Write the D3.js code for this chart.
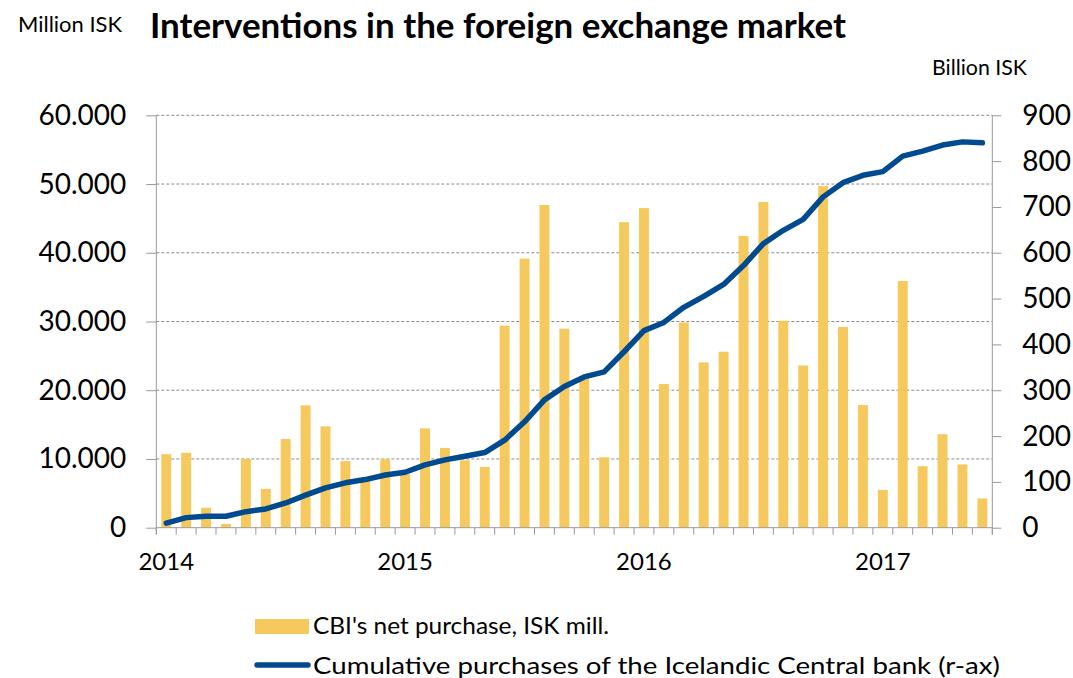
<!DOCTYPE html>
<html>
<head>
<meta charset="utf-8">
<script src="https://cdn.jsdelivr.net/npm/d3@7"></script>
<style>
  html, body { margin: 0; padding: 0; background: #fff; }
  svg { display: block; font-family: Lato, "Open Sans", sans-serif; }
</style>
</head>
<body>
<svg id="chart" width="1073" height="678"></svg>
<script>
// Monthly observations, Jan 2014 – Jun 2017
const months = [
  "2014-01","2014-02","2014-03","2014-04","2014-05","2014-06","2014-07","2014-08","2014-09","2014-10","2014-11","2014-12",
  "2015-01","2015-02","2015-03","2015-04","2015-05","2015-06","2015-07","2015-08","2015-09","2015-10","2015-11","2015-12",
  "2016-01","2016-02","2016-03","2016-04","2016-05","2016-06","2016-07","2016-08","2016-09","2016-10","2016-11","2016-12",
  "2017-01","2017-02","2017-03","2017-04","2017-05","2017-06"
];

// CBI's net purchase, ISK million (left axis)
const netPurchase = [
  10700, 10900, 2900, 550, 10000, 5650, 12900, 17800, 14750, 9700, 7000, 9950,
  7800, 14450, 11600, 9800, 8850, 29400, 39150, 46950, 28950, 21700, 10250, 44450,
  46500, 20900, 29850, 24050, 25600, 42450, 47400, 30100, 23600, 49700, 29200, 17850,
  5500, 35900, 8950, 13600, 9200, 4250
];

// Cumulative purchases, ISK billion (right axis)
const cumulative = [
  10, 22, 25, 25, 35, 41, 54, 71, 87, 98, 105, 115,
  121, 137, 148, 156, 164, 191, 231, 279, 308, 329, 340, 384,
  430, 448, 481, 505, 531, 572, 620, 649, 673, 722, 753, 769,
  777, 811, 822, 835, 842, 840
];

const leftTicks = [0, 10000, 20000, 30000, 40000, 50000, 60000];
const rightTicks = [0, 100, 200, 300, 400, 500, 600, 700, 800, 900];
const yearLabels = ["2014", "2015", "2016", "2017"];

const barColor = "#F5C95D";
const lineColor = "#004A8F";
const axisColor = "#999999";

const svg = d3.select("#chart");
const plot = { left: 156.3, right: 992.3, top: 115.3, bottom: 527.7 };

const x = d3.scaleBand()
  .domain(months)
  .range([plot.left, plot.right])
  .paddingInner(0.5)
  .paddingOuter(0.25);

const yL = d3.scaleLinear().domain([0, 60000]).range([plot.bottom, plot.top]);
const yR = d3.scaleLinear().domain([0, 900]).range([plot.bottom, plot.top]);

const fmtThousands = d3.formatLocale({ decimal: ",", thousands: ".", grouping: [3], currency: ["", ""] }).format(",d");

// Horizontal dashed gridlines on the left-axis ticks
svg.append("g")
  .selectAll("line")
  .data(leftTicks.filter(d => d > 0))
  .join("line")
  .attr("x1", plot.left).attr("x2", plot.right)
  .attr("y1", d => yL(d)).attr("y2", d => yL(d))
  .attr("stroke", "#8c8c8c")
  .attr("stroke-width", 1)
  .attr("stroke-dasharray", "3,2");

// Bars
svg.append("g")
  .selectAll("rect")
  .data(months)
  .join("rect")
  .attr("x", d => x(d))
  .attr("width", x.bandwidth())
  .attr("y", (d, i) => yL(netPurchase[i]))
  .attr("height", (d, i) => yL(0) - yL(netPurchase[i]))
  .attr("fill", barColor);

// Left axis
const leftAxis = svg.append("g")
  .attr("transform", `translate(${plot.left},0)`)
  .call(d3.axisLeft(yL).tickValues(leftTicks).tickSize(10).tickPadding(20).tickFormat(fmtThousands));
leftAxis.select(".domain").remove();
leftAxis.selectAll(".tick line").attr("stroke", axisColor);
leftAxis.selectAll(".tick text")
  .attr("fill", "#000").attr("font-size", 28).attr("font-family", "Lato, sans-serif");
leftAxis.append("line")
  .attr("x1", 0).attr("x2", 0).attr("y1", plot.top).attr("y2", plot.bottom + 7)
  .attr("stroke", axisColor);

// Right axis
const rightAxis = svg.append("g")
  .attr("transform", `translate(${plot.right},0)`)
  .call(d3.axisRight(yR).tickValues(rightTicks).tickSize(9).tickPadding(21));
rightAxis.select(".domain").remove();
rightAxis.selectAll(".tick line").attr("stroke", axisColor);
rightAxis.selectAll(".tick text")
  .attr("fill", "#000").attr("font-size", 28).attr("font-family", "Lato, sans-serif");
rightAxis.append("line")
  .attr("x1", 0).attr("x2", 0).attr("y1", plot.top).attr("y2", plot.bottom + 7)
  .attr("stroke", axisColor);

// Bottom axis: month boundary ticks and year labels
const bottom = svg.append("g");
bottom.append("line")
  .attr("x1", plot.left).attr("x2", plot.right)
  .attr("y1", plot.bottom).attr("y2", plot.bottom)
  .attr("stroke", axisColor);
const boundaries = months.map(m => x(m) - x.step() * x.paddingOuter()).concat([plot.right]);
bottom.selectAll("line.mtick")
  .data(boundaries)
  .join("line")
  .attr("class", "mtick")
  .attr("x1", d => d).attr("x2", d => d)
  .attr("y1", plot.bottom).attr("y2", plot.bottom + 7)
  .attr("stroke", axisColor);
bottom.selectAll("text")
  .data(yearLabels)
  .join("text")
  .attr("x", d => x(d + "-01") + x.bandwidth() / 2)
  .attr("y", 570)
  .attr("text-anchor", "middle")
  .attr("font-size", 24)
  .text(d => d);

// Cumulative line
const line = d3.line()
  .x((d, i) => x(months[i]) + x.bandwidth() / 2)
  .y(d => yR(d));
svg.append("path")
  .datum(cumulative)
  .attr("d", line)
  .attr("fill", "none")
  .attr("stroke", lineColor)
  .attr("stroke-width", 5.5)
  .attr("stroke-linejoin", "round")
  .attr("stroke-linecap", "round");

// Titles
svg.append("text")
  .attr("x", 18).attr("y", 32)
  .attr("font-size", 21)
  .attr("textLength", 104).attr("lengthAdjust", "spacingAndGlyphs")
  .text("Million ISK");
svg.append("text")
  .attr("x", 150).attr("y", 38)
  .attr("font-size", 34)
  .attr("font-weight", "bold")
  .attr("textLength", 696).attr("lengthAdjust", "spacingAndGlyphs")
  .text("Interventions in the foreign exchange market");
svg.append("text")
  .attr("x", 932).attr("y", 75)
  .attr("font-size", 21)
  .attr("textLength", 95).attr("lengthAdjust", "spacingAndGlyphs")
  .text("Billion ISK");

// Legend
const legend = svg.append("g");
legend.append("rect")
  .attr("x", 255).attr("y", 619).attr("width", 54).attr("height", 15)
  .attr("fill", barColor);
legend.append("text")
  .attr("x", 313).attr("y", 634)
  .attr("font-size", 24)
  .attr("textLength", 296).attr("lengthAdjust", "spacingAndGlyphs")
  .text("CBI's net purchase, ISK mill.");
legend.append("line")
  .attr("x1", 257).attr("x2", 308).attr("y1", 665).attr("y2", 665)
  .attr("stroke", lineColor).attr("stroke-width", 5.5).attr("stroke-linecap", "round");
legend.append("text")
  .attr("x", 313).attr("y", 674)
  .attr("font-size", 24)
  .attr("textLength", 687).attr("lengthAdjust", "spacingAndGlyphs")
  .text("Cumulative purchases of the Icelandic Central bank (r-ax)");
</script>
</body>
</html>
